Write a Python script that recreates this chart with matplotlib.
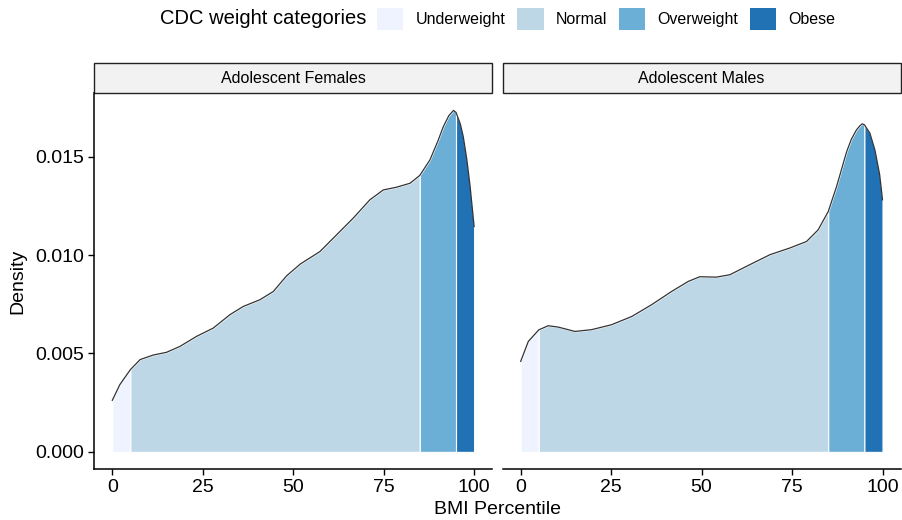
import numpy as np
import matplotlib
matplotlib.use("Agg")
import matplotlib.pyplot as plt
from matplotlib.patches import Rectangle, Patch

plt.rcParams['font.family'] = ['Liberation Sans', 'DejaVu Sans']

# BMI percentile vs density
fem_x = [0, 2.1, 5, 7.7, 11.3, 15, 18.7, 23.3, 27.9, 32.5, 36.2, 40.8, 44.5, 48.2,
         52, 57.4, 62, 66.6, 71.2, 74.9, 78.6, 82.3, 85, 87.8, 90, 91.5, 93, 94.3,
         95, 96.2, 97, 98, 98.9, 100]
fem_y = [0.00262, 0.00342, 0.00418, 0.00469, 0.00492, 0.00506, 0.00536, 0.00587,
         0.00629, 0.00697, 0.00739, 0.00773, 0.00815, 0.00895, 0.00955, 0.01018,
         0.01103, 0.01188, 0.01281, 0.01331, 0.01345, 0.01365, 0.01405, 0.01484,
         0.0158, 0.01653, 0.01708, 0.01735, 0.01725, 0.01665, 0.01602, 0.01484,
         0.01348, 0.01145]

mal_x = [0, 2.1, 5, 7.6, 10.4, 15, 19.6, 25.1, 30.7, 36.2, 41.7, 46.3, 49.5, 54.1,
         57.8, 63.3, 68.9, 74.4, 79, 82.2, 85, 87.3, 90.1, 91.4, 92.8, 93.7, 94.4,
         95, 96.5, 97.9, 99.2, 100]
mal_y = [0.0046, 0.00561, 0.0062, 0.00641, 0.00634, 0.00612, 0.00621, 0.00646,
         0.00688, 0.00748, 0.00815, 0.00866, 0.0089, 0.00888, 0.009, 0.00951,
         0.01002, 0.01036, 0.01069, 0.01128, 0.01221, 0.01348, 0.01526, 0.01589,
         0.01636, 0.01656, 0.01667, 0.01662, 0.0162, 0.01534, 0.0141, 0.01281]

panels = ["Adolescent Females", "Adolescent Males"]
categories = ["Underweight", "Normal", "Overweight", "Obese"]
cuts = [0, 5, 85, 95, 100]
colors = ["#EFF3FF", "#BDD7E7", "#6BAED6", "#2171B5"]

W, H = 902, 520
fig = plt.figure(figsize=(W / 100, H / 100), dpi=100)

ax_bottom = (H - 469) / H
ax_h = (469 - 93.3) / H
ax_w = 398 / W
lefts = [94.2 / W, 502.6 / W]

data = [(fem_x, fem_y), (mal_x, mal_y)]
for i, (px, py) in enumerate(data):
    ax = fig.add_axes([lefts[i], ax_bottom, ax_w, ax_h])
    x = np.array(px)
    y = np.array(py)
    for k in range(4):
        m = (x >= cuts[k]) & (x <= cuts[k + 1])
        ax.fill_between(x[m], 0, y[m], facecolor=colors[k], edgecolor="white",
                        linewidth=0.8)
    ax.plot(x, y, color="#333333", lw=0.9, solid_joinstyle="round")

    ax.set_xlim(-5, 105)
    ax.set_ylim(-0.00087, 0.01822)
    ax.set_xticks([0, 25, 50, 75, 100])
    ax.set_yticks([0, 0.005, 0.010, 0.015])
    ax.set_yticklabels(["0.000", "0.005", "0.010", "0.015"])
    for s in ["top", "right"]:
        ax.spines[s].set_visible(False)
    ax.spines["bottom"].set_linewidth(1.1)
    ax.spines["left"].set_linewidth(1.1)
    ax.tick_params(length=4, width=1.0, labelsize=14, color="black",
                   labelcolor="black", pad=3)
    if i == 1:
        ax.spines["left"].set_visible(False)
        ax.tick_params(axis="y", left=False, labelleft=False)

    # facet strip
    sh = 30 / (469 - 93.3)
    ax.add_patch(Rectangle((0, 1), 1, sh, transform=ax.transAxes, clip_on=False,
                           facecolor="#F2F2F2", edgecolor="#222222", lw=1.0))
    ax.text(0.5, 1 + sh / 2, panels[i], transform=ax.transAxes, ha="center",
            va="center", fontsize=11.5)

fig.text(18 / W, 1 - 281 / H, "Density", rotation=90, ha="center", va="center",
         fontsize=14)
fig.text(497 / W, 1 - 509 / H, "BMI Percentile", ha="center", va="center",
         fontsize=14)

# legend on top
fig.text(366 / W, 1 - 19 / H, "CDC weight categories", ha="right", va="center",
         fontsize=14.5)
handles = [Patch(facecolor=c, edgecolor="none") for c in colors]
fig.legend(handles, categories, loc="center left",
           bbox_to_anchor=(377 / W, 1 - 19 / H), ncol=4, frameon=False,
           fontsize=11.5, handlelength=1.65, handleheight=1.75,
           handletextpad=0.75, columnspacing=0.75, borderpad=0, borderaxespad=0)

fig.savefig("out.png", dpi=100)
